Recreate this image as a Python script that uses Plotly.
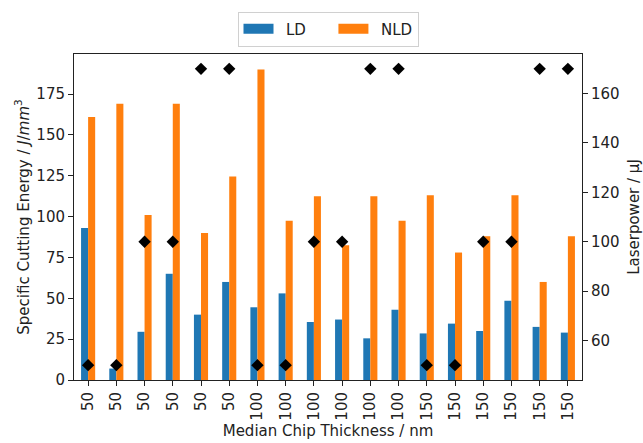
import plotly.graph_objects as go

ticklabels = ["50", "50", "50", "50", "50", "50",
              "100", "100", "100", "100", "100", "100",
              "150", "150", "150", "150", "150", "150"]
ld = [93, 7, 29.5, 65, 40, 60, 44.5, 53, 35.5, 37, 25.5, 43, 28.5, 34.5, 30, 48.5, 32.5, 29]
nld = [161, 169, 101, 169, 90, 124.5, 190, 97.5, 112.5, 82.5, 112.5, 97.5, 113, 78, 88, 113, 60, 88]
laserpower = [50, 50, 100, 100, 170, 170, 50, 50, 100, 100, 170, 170, 50, 50, 100, 100, 170, 170]

x = list(range(len(ticklabels)))
font = "DejaVu Sans, sans-serif"
axcol = "#222222"
blue = "#1f77b4"
orange = "#ff7f0e"
fs = 15

fig = go.Figure()
fig.add_trace(go.Bar(x=x, y=ld, name="LD", marker_color=blue, marker_line_width=0, showlegend=False))
fig.add_trace(go.Bar(x=x, y=nld, name="NLD", marker_color=orange, marker_line_width=0, showlegend=False))
fig.add_trace(go.Scatter(x=x, y=laserpower, mode="markers", yaxis="y2", showlegend=False,
                         marker=dict(symbol="diamond", size=9.5, color="black")))
# legend entries (wide rectangular patches like the reference)
fig.add_trace(go.Scatter(x=[None], y=[None], mode="lines", name="\u2002LD\u2003\u2002",
                         line=dict(color=blue, width=10)))
fig.add_trace(go.Scatter(x=[None], y=[None], mode="lines", name="\u2002NLD",
                         line=dict(color=orange, width=10)))

fig.update_layout(
    width=643, height=443,
    margin=dict(l=74, r=61, t=50, b=63),
    paper_bgcolor="white", plot_bgcolor="white",
    font=dict(family=font, size=fs, color=axcol),
    barmode="group", bargap=0.5, bargroupgap=0,
    legend=dict(orientation="h", x=0.5, xanchor="center", y=1.13, yanchor="top",
                bordercolor="#d0d0d0", borderwidth=1, font=dict(size=fs),
                itemwidth=30, tracegroupgap=0),
    xaxis=dict(range=[-0.5, 17.5], tickmode="array", tickvals=x, ticktext=ticklabels,
               tickangle=-90, ticks="outside", ticklen=5, tickcolor=axcol,
               showline=True, linecolor=axcol, linewidth=1, mirror=True, showgrid=False,
               zeroline=False, automargin=False,
               title=dict(text="Median Chip Thickness / nm", standoff=5, font=dict(size=fs))),
    yaxis=dict(range=[0, 199.5], tickvals=[0, 25, 50, 75, 100, 125, 150, 175],
               ticks="outside", ticklen=5, tickcolor=axcol,
               showline=True, linecolor=axcol, linewidth=1, mirror=True, showgrid=False,
               zeroline=False, automargin=False,
               title=dict(text="Specific Cutting Energy / <i>J</i>/<i>mm</i><sup>3</sup>",
                          standoff=3, font=dict(size=fs))),
    yaxis2=dict(overlaying="y", side="right", range=[44, 176],
                tickvals=[60, 80, 100, 120, 140, 160],
                ticks="outside", ticklen=5, tickcolor=axcol,
                showline=True, linecolor=axcol, linewidth=1, showgrid=False, zeroline=False,
                automargin=False,
                title=dict(text="Laserpower / µJ", standoff=14, font=dict(size=fs))),
)

fig.write_html("out.html")
